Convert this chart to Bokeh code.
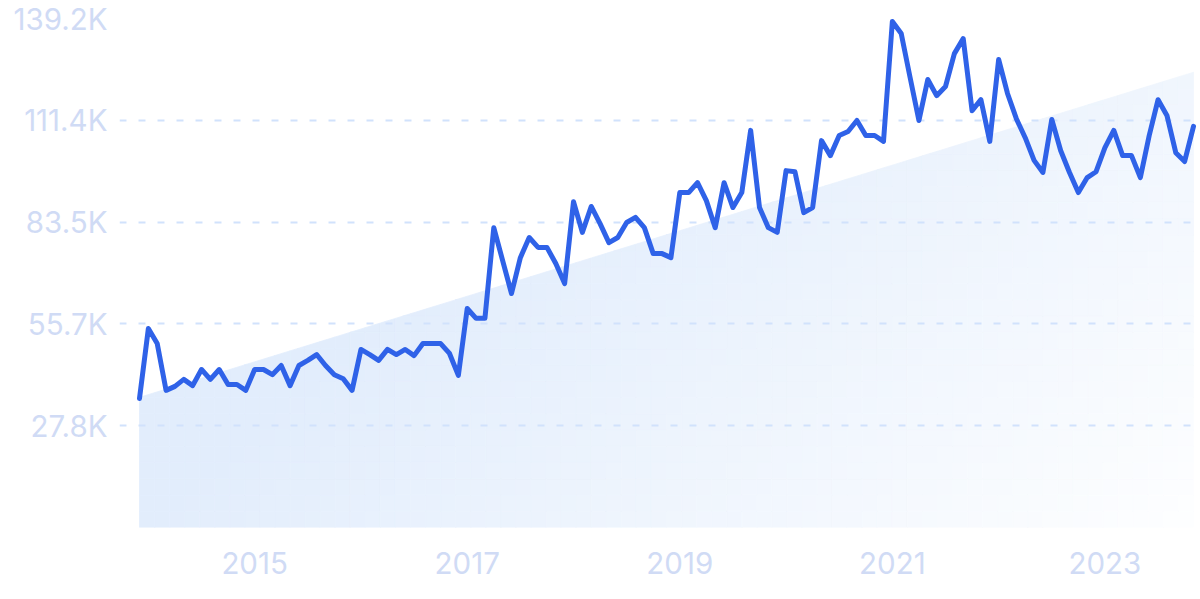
import numpy as np
from bokeh.plotting import figure
from bokeh.models import FixedTicker, Range1d
from bokeh.embed import file_html
from bokeh.resources import INLINE

# ---------------- data (thousands) ----------------
start_year, start_month = 2013, 12          # first monthly point: Dec 2013
values_k = [
    35.3, 54.4, 50.3, 37.5, 38.6, 40.5, 38.8, 43.2, 40.5, 43.2, 39.1, 39.1,
    37.5, 43.2, 43.2, 41.8, 44.3, 38.8, 44.3, 45.7, 47.3, 44.3, 41.8, 40.7,
    37.5, 48.7, 47.3, 45.7, 48.7, 47.3, 48.7, 47.0, 50.3, 50.3, 50.3, 47.6,
    41.6, 59.9, 57.2, 57.2, 82.0, 73.0, 64.0, 73.8, 79.3, 76.6, 76.6, 72.2,
    66.7, 89.1, 80.7, 87.8, 83.1, 77.9, 79.3, 83.4, 84.8, 82.0, 74.9, 74.9,
    73.8, 91.6, 91.6, 94.3, 89.4, 82.0, 94.3, 87.5, 91.6, 108.6, 87.5, 82.0,
    80.7, 97.6, 97.3, 86.1, 87.5, 105.8, 101.7, 107.2, 108.3, 111.3, 107.2, 107.2,
    105.6, 138.4, 135.1, 123.1, 111.3, 122.5, 118.1, 120.6, 129.6, 133.7, 114.0, 117.0,
    105.6, 128.0, 118.7, 111.8, 106.6, 100.4, 97.1, 111.6, 103.1, 97.1, 91.6, 95.7,
    97.3, 103.9, 108.6, 101.7, 101.7, 95.7, 107.2, 117.0, 112.7, 102.5, 100.1, 109.7,
]
trend_k = [35.6, 124.5]                     # trend line at first / last point
x_ticks = [2015, 2017, 2019, 2021, 2023]
x_labels = ["2015", "2017", "2019", "2021", "2023"]
y_ticks = [27.84, 55.68, 83.52, 111.36, 139.2]
y_labels = ["27.8K", "55.7K", "83.5K", "111.4K", "139.2K"]

# ---------------- layout ----------------
W, H = 1200, 599
FL, FT, FB = 119, 18, 72
frame_w = W - FL
n = len(values_k)
x = start_year + (start_month - 1) / 12 + np.arange(n) / 12
span = x[-1] - x[0]
pad_l, pad_r = 20, 7
ppu = (frame_w - pad_l - pad_r) / span
xr = Range1d(x[0] - pad_l / ppu, x[-1] + pad_r / ppu)
yr = Range1d(0, y_ticks[-1])

p = figure(width=W, height=H, x_range=xr, y_range=yr,
           output_backend="svg", toolbar_location=None,
           min_border_left=FL, min_border_right=0,
           min_border_top=FT, min_border_bottom=FB)
p.outline_line_color = None
p.background_fill_color = "white"
p.border_fill_color = "white"

# ---------------- gradient area under the trend line ----------------
xa, xb = x[0], x[-1]
ta, tb = trend_k


def trend(xx):
    return ta + (tb - ta) * (xx - xa) / (xb - xa)


def clip(pts):
    out = []
    m = len(pts)
    for k in range(m):
        P, Q = pts[k], pts[(k + 1) % m]
        fp = P[1] - trend(P[0])
        fq = Q[1] - trend(Q[0])
        if fp <= 0:
            out.append(P)
        if (fp <= 0) != (fq <= 0):
            s = fp / (fp - fq)
            out.append((P[0] + s * (Q[0] - P[0]), P[1] + s * (Q[1] - P[1])))
    return out


c0 = np.array([226, 237, 252])
c1 = np.array([255, 255, 255])
ymax = y_ticks[-1]
ncol, nrow = 70, 28
top = max(ta, tb)
gxs, gys, gcols = [], [], []
for i in range(ncol):
    x_lo = xa + span * i / ncol
    x_hi = xa + span * (i + 1) / ncol
    for j in range(nrow):
        y_lo = top * j / nrow
        y_hi = top * (j + 1) / nrow
        poly = clip([(x_lo, y_lo), (x_hi, y_lo), (x_hi, y_hi), (x_lo, y_hi)])
        if len(poly) < 3:
            continue
        u = ((x_lo + x_hi) / 2 - xa) / span
        v = ((y_lo + y_hi) / 2) / ymax
        t = min(1.0, max(0.0, 0.95 * u - 0.52 * v))
        c = (c0 + (c1 - c0) * t).round().astype(int)
        col = "#%02x%02x%02x" % tuple(c)
        gxs.append([pt[0] for pt in poly])
        gys.append([pt[1] for pt in poly])
        gcols.append(col)

area = p.patches(gxs, gys, fill_color=gcols, line_color=gcols, line_width=0.8)
area.level = "image"

# ---------------- line ----------------
p.line(x, values_k, line_color="#2f62e8", line_width=5,
       line_join="round", line_cap="round")

# ---------------- axes & grid ----------------
font = "Inter"
lab_col = "#d0dbf5"

p.xaxis.ticker = FixedTicker(ticks=x_ticks)
p.xaxis.major_label_overrides = dict(zip(x_ticks, x_labels))
p.yaxis.ticker = FixedTicker(ticks=y_ticks)
p.yaxis.major_label_overrides = dict(zip(y_ticks, y_labels))

for ax in (p.xaxis, p.yaxis):
    ax.axis_line_color = None
    ax.major_tick_line_color = None
    ax.minor_tick_line_color = None
    ax.major_tick_in = 0
    ax.major_tick_out = 0
    ax.minor_tick_in = 0
    ax.minor_tick_out = 0
    ax.major_label_text_font = font
    ax.major_label_text_font_size = "29.5px"
    ax.major_label_text_color = lab_col
p.yaxis.major_label_standoff = 12
p.xaxis.major_label_standoff = 24

p.xgrid.visible = False
p.ygrid.ticker = FixedTicker(ticks=y_ticks)
p.ygrid.grid_line_color = "#d1e2fc"
p.ygrid.grid_line_width = 2
p.ygrid.grid_line_dash = "7 12"

open("out.html", "w").write(file_html(p, INLINE))
